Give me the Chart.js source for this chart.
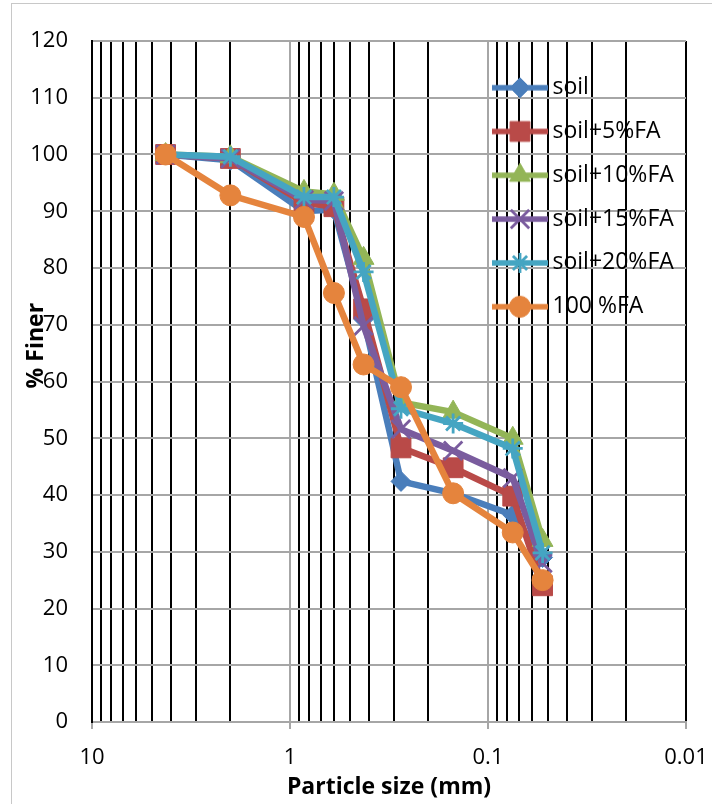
<!DOCTYPE html>
<html>
<head>
<meta charset="utf-8">
<script src="https://cdn.jsdelivr.net/npm/chart.js@4.4.1/dist/chart.umd.min.js"></script>
<style>
html,body{margin:0;padding:0;background:#fff;}
canvas{display:block;}
</style>
</head>
<body>
<canvas id="c" width="712" height="804"></canvas>
<script>
// ---- data ----
const particleSizes = [4.25, 2.0, 0.85, 0.6, 0.425, 0.275, 0.15, 0.075, 0.053];
const soil      = [100, 99.0, 90.0, 90.3, 71.0, 42.4, 40.3, 36.5, 29.0];
const soil5FA   = [100, 99.3, 91.5, 90.8, 72.8, 48.3, 44.8, 39.8, 24.0];
const soil10FA  = [100, 99.6, 93.5, 93.0, 81.7, 56.3, 54.6, 50.0, 32.0];
const soil15FA  = [100, 99.3, 92.0, 91.8, 69.8, 51.6, 47.8, 43.0, 28.0];
const soil20FA  = [100, 99.6, 92.5, 92.5, 79.3, 55.2, 52.6, 48.2, 29.8];
const fa100     = [100, 92.8, 89.0, 75.6, 63.0, 59.0, 40.3, 33.4, 25.0];
const seriesNames = ['soil', 'soil+5%FA', 'soil+10%FA', 'soil+15%FA', 'soil+20%FA', '100 %FA'];
const xGridValues = [0.01,0.02,0.03,0.04,0.05,0.06,0.07,0.08,0.09,
                     0.1,0.2,0.3,0.4,0.5,0.6,0.7,0.8,0.9,
                     1,2,3,4,5,6,7,8,9,10];
const xLabelValues = [10, 1, 0.1, 0.01];
const xLabelTexts  = ['10', '1', '0.1', '0.01'];
const yTickValues  = [0,10,20,30,40,50,60,70,80,90,100,110,120];

// ---- styles ----
const seriesValues = [soil, soil5FA, soil10FA, soil15FA, soil20FA, fa100];
const colors = ['#4A7EBB', '#B94A48', '#93B557', '#7A5C9E', '#45A5C2', '#E5843D'];
const pStyles = ['rectRot', 'rect', 'triangle', 'crossRot', 'star', 'circle'];
const pRadius = [10, 14, 12, 13, 10, 10.5];
const pBorder = [1, 1, 1, 2.8, 2.8, 1];
const GRAY = '#a6a6a6';
const FONT = "'Open Sans', sans-serif";

Chart.defaults.font.family = FONT;
Chart.defaults.color = '#000';

function isLabelValue(v) {
  return xLabelValues.some(d => Math.abs(v - d) / d < 1e-6);
}

function legendIcon(i) {
  const c = document.createElement('canvas');
  c.width = 56; c.height = 32;
  const g = c.getContext('2d');
  g.strokeStyle = colors[i];
  g.lineWidth = 5.5;
  g.beginPath(); g.moveTo(0, 16); g.lineTo(56, 16); g.stroke();
  g.fillStyle = colors[i];
  g.strokeStyle = colors[i];
  g.lineWidth = pBorder[i];
  Chart.helpers.drawPoint(g, {pointStyle: pStyles[i], radius: pRadius[i], rotation: 0, borderWidth: pBorder[i]}, 28, 16);
  return c;
}
const icons = seriesNames.map((_, i) => legendIcon(i));

const datasets = seriesNames.map((name, i) => ({
  label: name,
  data: particleSizes.map((x, j) => ({x: x, y: seriesValues[i][j]})),
  borderColor: colors[i],
  backgroundColor: colors[i],
  borderWidth: 6.5,
  tension: 0,
  fill: false,
  pointStyle: pStyles[i],
  pointRadius: pRadius[i],
  pointBackgroundColor: colors[i],
  pointBorderColor: colors[i],
  pointBorderWidth: pBorder[i],
  order: seriesNames.length - i
}));

const frame = {
  id: 'frame',
  beforeDraw(chart) {
    const ctx = chart.ctx;
    ctx.save();
    ctx.fillStyle = '#fff';
    ctx.fillRect(0, 0, chart.width, chart.height);
    ctx.strokeStyle = '#c8c8c8';
    ctx.lineWidth = 1;
    ctx.strokeRect(11.5, 3.5, chart.width + 20, chart.height + 20);
    ctx.restore();
  }
};

const legendPlacement = {
  id: 'legendPlacement',
  afterLayout(chart) {
    const lg = chart.legend;
    if (!lg) return;
    const p = lg.options.labels.padding;
    const fs = lg.options.labels.font.size;
    lg.left = chart.chartArea.right - 187 - p;
    lg.top = 87.7 - fs / 2 - p;
    lg.right = chart.width;
    lg.bottom = chart.chartArea.bottom;
    lg.width = lg.right - lg.left;
    lg.height = lg.bottom - lg.top;
  }
};

new Chart(document.getElementById('c'), {
  type: 'line',
  data: { datasets: datasets },
  plugins: [frame, legendPlacement],
  options: {
    responsive: false,
    animation: false,
    devicePixelRatio: 1,
    layout: { padding: { left: 0, right: 26, top: 41, bottom: 0 } },
    plugins: {
      tooltip: { enabled: false },
      legend: {
        position: 'chartArea',
        align: 'start',
        labels: {
          usePointStyle: true,
          pointStyleWidth: 42,
          padding: 20.8,
          color: '#000',
          font: { size: 23, family: FONT },
          generateLabels(chart) {
            return chart.data.datasets.map((ds, i) => ({
              text: ds.label,
              pointStyle: icons[i],
              datasetIndex: i,
              fillStyle: colors[i],
              strokeStyle: colors[i],
              lineWidth: 0,
              hidden: false,
              fontColor: '#000'
            }));
          }
        }
      }
    },
    scales: {
      x: {
        type: 'logarithmic',
        reverse: true,
        min: 0.01,
        max: 10,
        afterBuildTicks(scale) {
          scale.ticks = xGridValues.map(v => ({value: v}));
        },
        afterFit(scale) { scale.height = 82; },
        ticks: {
          autoSkip: false,
          maxRotation: 0,
          minRotation: 0,
          padding: 16,
          color: '#000',
          font: { size: 22, family: FONT },
          callback(value) {
            const k = xLabelValues.findIndex(d => Math.abs(value - d) / d < 1e-6);
            return k >= 0 ? xLabelTexts[k] : '';
          }
        },
        grid: {
          lineWidth: 2,
          color(ctx) {
            const v = ctx.tick ? ctx.tick.value : 0;
            if (Math.abs(v - 1) < 1e-9 || Math.abs(v - 0.1) < 1e-9) return GRAY;
            return '#000';
          },
          tickLength: 7,
          tickWidth: 2,
          tickColor(ctx) {
            const v = ctx.tick ? ctx.tick.value : 0;
            return isLabelValue(v) ? GRAY : 'rgba(0,0,0,0)';
          }
        },
        border: { color: GRAY, width: 2 },
        title: {
          display: true,
          text: 'Particle size (mm)',
          color: '#000',
          font: { size: 23, weight: 'bold', family: FONT },
          padding: { top: 0, bottom: 3 }
        }
      },
      y: {
        type: 'linear',
        min: 0,
        max: 120,
        afterBuildTicks(scale) {
          scale.ticks = yTickValues.map(v => ({value: v}));
        },
        afterFit(scale) { scale.width = 92; },
        ticks: {
          padding: 24,
          color: '#000',
          font: { size: 22, family: FONT }
        },
        grid: {
          lineWidth: 2,
          color: GRAY,
          drawTicks: false
        },
        border: { color: '#000', width: 2 },
        title: {
          display: true,
          text: '            % Finer',
          color: '#000',
          font: { size: 23, weight: 'bold', family: FONT },
          padding: { top: 23, bottom: 0 }
        }
      }
    }
  }
});
</script>
</body>
</html>
